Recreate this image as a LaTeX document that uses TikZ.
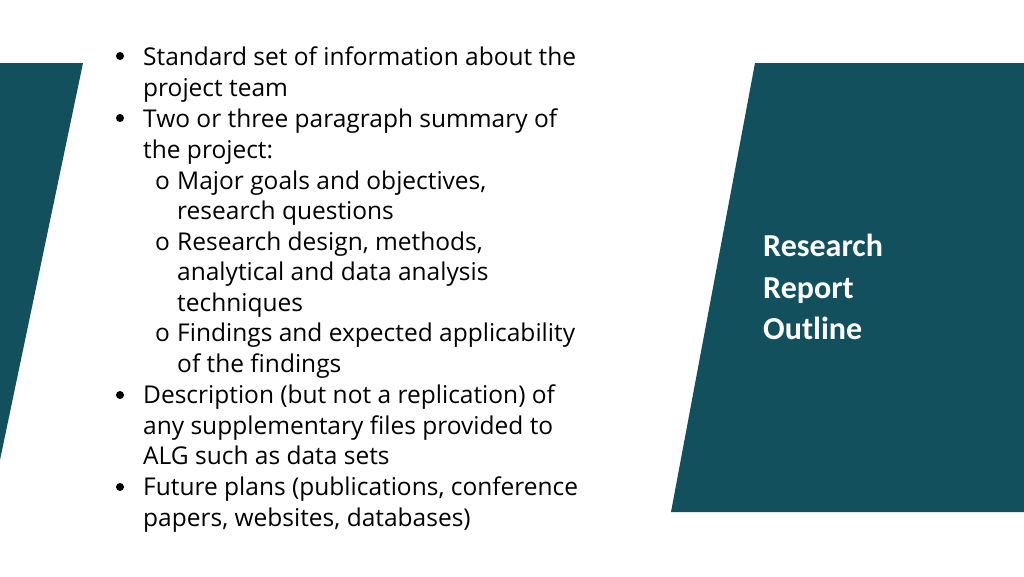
\documentclass[tikz,border=0pt]{standalone}
\usepackage{fontspec}
\setmainfont{Open Sans}
\newfontfamily\titlefont{Carlito}
\definecolor{slideteal}{HTML}{12505E}
\begin{document}
\begin{tikzpicture}[x=1pt,y=-1pt]
  \tikzset{
    line/.style={anchor=base west,inner sep=0pt,font=\fontsize{24.5}{29}\selectfont},
    dot/.style={circle,fill=black,inner sep=0pt,minimum size=8pt},
    title/.style={anchor=base west,inner sep=0pt,text=white,font=\titlefont\bfseries\fontsize{32}{38}\selectfont}
  }
  \useasboundingbox (0,0) rectangle (1024,576);
  \fill[slideteal] (0,63) -- (83,63) -- (0,460) -- cycle;
  \fill[slideteal] (755,63) -- (1024,63) -- (1024,512) -- (671,512) -- cycle;
  % bullet lines
  \node[line] (l1) at (143,65) {Standard set of information about the};
  \node[line] (l2) at (143,96) {project team};
  \node[line] (l3) at (143,127) {Two or three paragraph summary of};
  \node[line] (l4) at (143,158) {the project:};
  \node[line] (l5) at (177,189) {Major goals and objectives,};
  \node[line] (l6) at (177,219) {research questions};
  \node[line] (l7) at (177,250) {Research design, methods,};
  \node[line] (l8) at (177,280) {analytical and data analysis};
  \node[line] (l9) at (177,311) {techniques};
  \node[line] (l10) at (177,341) {Findings and expected applicability};
  \node[line] (l11) at (177,372) {of the findings};
  \node[line] (l12) at (143,403) {Description (but not a replication) of};
  \node[line] (l13) at (143,434) {any supplementary files provided to};
  \node[line] (l14) at (143,464) {ALG such as data sets};
  \node[line] (l15) at (143,495) {Future plans (publications, conference};
  \node[line] (l16) at (143,526) {papers, websites, databases)};
  % markers
  \foreach \y/\n in {56/d1,118/d2,395/d3,487/d4}
    \node[dot] (\n) at (120,\y) {};
  \foreach \y/\n in {189/o1,250/o2,341/o3}
    \node[line] (\n) at (155,\y) {o};
  % title
  \node[title] (t1) at (763,256) {Research};
  \node[title] (t2) at (763,298) {Report};
  \node[title] (t3) at (763,339) {Outline};
\end{tikzpicture}
\end{document}
